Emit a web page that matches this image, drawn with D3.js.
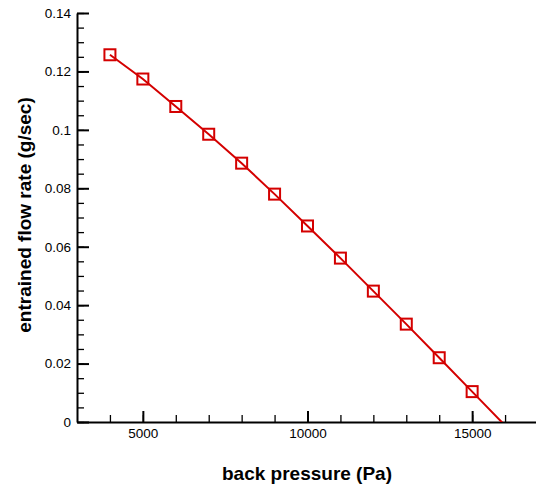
<!DOCTYPE html>
<html>
<head>
<meta charset="utf-8">
<script src="https://cdn.jsdelivr.net/npm/d3@7"></script>
<style>
  body { margin: 0; background: #fff; }
  text { font-family: Arial, "Liberation Sans", sans-serif; }
</style>
</head>
<body>
<script>
(()=>{
    const width = 536;
    const height = 487;
    const marginTop = 13;
    const marginRight = -2;
    const marginBottom = 65;
    const marginLeft = 77;

    // back pressure (Pa) vs entrained flow rate (g/sec)
    const pressure = [4000, 5000, 6000, 7000, 8000, 9000, 10000, 11000, 12000, 13000, 14000, 15000, 16000];
    const flowRate = [0.1257, 0.1174, 0.1080, 0.0985, 0.0886, 0.0780, 0.0671, 0.0561, 0.0448, 0.0335, 0.0220, 0.0104, -0.0012];

    const xMajor = [5000, 10000, 15000];
    const xMinor = d3.range(4000, 17000, 1000);
    const yMajor = [0, 0.02, 0.04, 0.06, 0.08, 0.1, 0.12, 0.14];
    const yMinor = d3.range(0, 0.1401, 0.005);

    const data = pressure.map((p, i) => ({p: p, q: flowRate[i]}));
    const red = "#d40000";

    const x = d3.scaleLinear()
    .domain([3000, 17000])
    .range([marginLeft, width - marginRight]);

    const y = d3.scaleLinear()
    .domain([0, 0.14])
    .range([height - marginBottom, marginTop]);

    const svg = d3.create("svg")
    .attr("width", width)
    .attr("height", height)
    .attr("viewBox", [0, 0, width, height]);

    svg.append("clipPath")
    .attr("id", "plot")
    .append("rect")
    .attr("x", marginLeft)
    .attr("y", 0)
    .attr("width", width - marginLeft)
    .attr("height", height - marginBottom);

    // minor ticks first, then majors with labels
    svg.append("g")
    .attr("transform", `translate(0,${height - marginBottom})`)
    .call(d3.axisBottom(x).tickValues(xMinor).tickSize(-7).tickFormat(""))
    .call(g => g.select(".domain").remove())
    .selectAll("line").attr("stroke-width", 1.3);

    svg.append("g")
    .attr("transform", `translate(0,${height - marginBottom})`)
    .call(d3.axisBottom(x).tickValues(xMajor).tickSizeInner(-11).tickSizeOuter(0).tickPadding(6).tickFormat(d3.format("d")))
    .call(g => g.select(".domain").attr("stroke-width", 2))
    .call(g => g.selectAll(".tick line").attr("stroke-width", 2))
    .call(g => g.selectAll("text").attr("font-size", 13.5).attr("fill", "#000"));

    svg.append("g")
    .attr("transform", `translate(${marginLeft},0)`)
    .call(d3.axisLeft(y).tickValues(yMinor).tickSize(-7).tickFormat(""))
    .call(g => g.select(".domain").remove())
    .selectAll("line").attr("stroke-width", 1.3);

    svg.append("g")
    .attr("transform", `translate(${marginLeft},0)`)
    .call(d3.axisLeft(y).tickValues(yMajor).tickSizeInner(-12).tickSizeOuter(0).tickPadding(6).tickFormat(d => d === 0 ? "0" : d3.format("")(+d.toFixed(2))))
    .call(g => g.select(".domain").attr("stroke-width", 2))
    .call(g => g.selectAll(".tick line").attr("stroke-width", 2))
    .call(g => g.selectAll("text").attr("font-size", 13.5).attr("fill", "#000"));

    const plot = svg.append("g").attr("clip-path", "url(#plot)");

    plot.append("path")
    .datum(data)
    .attr("fill", "none")
    .attr("stroke", red)
    .attr("stroke-width", 2)
    .attr("d", d3.line().x(d => x(d.p)).y(d => y(d.q)));

    // markers only for points inside the plotted range
    const box = 11;
    plot.selectAll("markers")
    .data(data.filter(d => d.q >= 0))
    .enter()
    .append("rect")
    .attr("x", d => x(d.p) - box / 2)
    .attr("y", d => y(d.q) - box / 2)
    .attr("width", box)
    .attr("height", box)
    .attr("fill", "none")
    .attr("stroke", red)
    .attr("stroke-width", 2);

    svg.append("text")
    .attr("x", 307)
    .attr("y", 480)
    .attr("text-anchor", "middle")
    .attr("font-size", 19)
    .attr("font-weight", "bold")
    .text("back pressure (Pa)");

    svg.append("text")
    .attr("transform", `translate(31,215) rotate(-90)`)
    .attr("text-anchor", "middle")
    .attr("font-size", 19)
    .attr("font-weight", "bold")
    .text("entrained flow rate (g/sec)");

    d3.select("body").append(() => svg.node());
})()
</script>
</body>
</html>
